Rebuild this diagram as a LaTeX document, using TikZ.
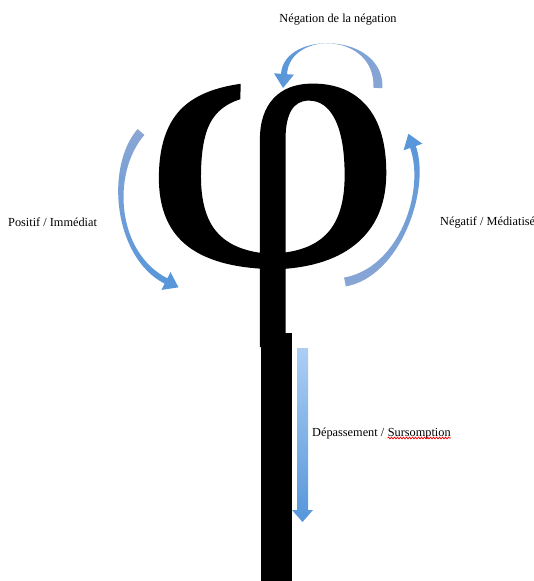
\documentclass[tikz,border=0pt]{standalone}
\usepackage{fontspec}
\setmainfont{Liberation Serif}
\newfontfamily\phifont[FakeBold=0.5]{Liberation Serif}
\usetikzlibrary{calc,positioning,decorations.pathmorphing}

\definecolor{pale}{RGB}{138,166,212}
\definecolor{vivid}{RGB}{86,150,218}
\definecolor{sky}{RGB}{172,206,245}

% curved block arrow: shading, tail, control, control, head base
\newcommand\bentarrow[5]{%
  \coordinate (tip) at ($(#5)!-14pt!(#4)$);
  \shade[#1] ($(#2)!4.5pt!90:(#3)$)
    .. controls ($(#3)!4.5pt!-90:(#2)$) and ($(#4)!3pt!90:(#5)$) .. ($(#5)!3pt!-90:(#4)$)
    -- ($(#5)!10pt!-90:(#4)$) -- (tip) -- ($(#5)!10pt!90:(#4)$) -- ($(#5)!3pt!90:(#4)$)
    .. controls ($(#4)!3pt!-90:(#5)$) and ($(#3)!4.5pt!90:(#2)$) .. ($(#2)!4.5pt!-90:(#3)$)
    -- cycle;}

\begin{document}
\begin{tikzpicture}[x=1pt,y=-1pt,
    label/.style={font=\fontsize{12.3}{14}\selectfont, inner sep=0pt}]
  \useasboundingbox (0,0) rectangle (534,581);

  % the letter and its long stem
  \node[font=\fontsize{382}{382}\phifont, inner sep=0pt] (phi) at (272.7,215.3) {\scalebox{1.18}[1]{φ}};
  \fill (261,333) rectangle (292,581);

  % labels
  \node[label] (negneg) at (338,20) {Négation de la négation};
  \node[label, anchor=west] (posit) at (8,222) {Positif / Immédiat};
  \node[label, anchor=west] (negat) at (440,222) {Négatif / Médiatisé};
  \node[label, anchor=base west] (depass) at (312,436) {Dépassement /};
  \node[label, right=3.1pt of depass.base east, anchor=base west] (sursomp) {Sursomption};
  \draw[red, line width=0.7pt, decorate,
        decoration={snake, amplitude=0.9pt, segment length=3pt}]
    ([yshift=-2pt]sursomp.base west) -- ([yshift=-2pt]sursomp.base east);

  % curved arrows
  \coordinate (toptail) at (378,88);
  \coordinate (tophead) at (284,74);
  \bentarrow{left color=vivid, right color=pale}{toptail}{380,32}{287,30}{tophead}
  \coordinate (lefttail) at (141,132);
  \coordinate (lefthead) at (166,281);
  \bentarrow{top color=pale, bottom color=vivid}{lefttail}{108,170}{115,255}{lefthead}
  \coordinate (righttail) at (345,282);
  \coordinate (righthead) at (413,147);
  \bentarrow{top color=vivid, bottom color=pale}{righttail}{400,272}{428,190}{righthead}

  % straight arrow down
  \coordinate (downtail) at (302.5,348);
  \coordinate (downtip) at (302.5,522);
  \shade[top color=sky, bottom color=vivid]
    ($(downtail)+(-5.5,0)$) -- ($(downtail)+(5.5,0)$) -- ($(downtip)+(5.5,-12)$)
    -- ($(downtip)+(10.5,-12)$) -- (downtip) -- ($(downtip)+(-10.5,-12)$)
    -- ($(downtip)+(-5.5,-12)$) -- cycle;
\end{tikzpicture}
\end{document}
